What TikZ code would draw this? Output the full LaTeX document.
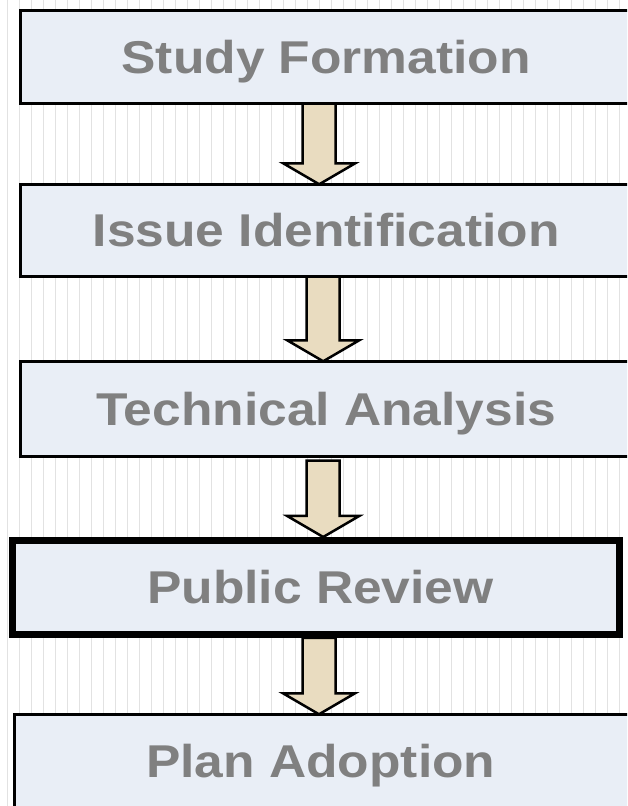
\documentclass[tikz,border=0pt]{standalone}
\usepackage{fontspec}
\setmainfont{Liberation Sans}[FakeStretch=1.12]
\usepackage{xcolor}
\usepackage{tikz}
\usetikzlibrary{calc}

\definecolor{boxfill}{HTML}{E9EEF6}
\definecolor{arrowfill}{HTML}{E9DCC0}
\definecolor{labelgray}{HTML}{808080}
\definecolor{stripe}{HTML}{E2E2E2}

\begin{document}
\begin{tikzpicture}[x=1pt,y=1pt,
            stage/.style={fill=boxfill,text=labelgray,
                font=\fontsize{46}{50}\selectfont\bfseries,anchor=west,
                minimum width=660pt,inner sep=0pt,text height=33pt,text depth=0pt},
            textkern/.style={execute at begin node={\hspace*{#1}}},
            current/.style={draw=black,line width=7pt,anchor=center,minimum width=607pt},
            edge/.style={draw=black,line width=3pt,line join=miter},
            flow/.style={draw=black,line width=2.5pt,fill=arrowfill,line join=miter}]
    \useasboundingbox (0,0) rectangle (627,806);
    \clip (0,0) rectangle (627,806);
    \fill[white] (0,0) rectangle (627,806);
    \foreach \x in {7.5,19.5,...,627}
        \draw[stripe,line width=1.2pt] (\x,0) -- (\x,806);
    \node[stage,textkern=-49pt,minimum height=93pt] (sf) at (20.5,749) {Study Formation};
    \node[stage,textkern=-49pt,minimum height=92pt] (ii) at (20.5,575.5) {Issue Identification};
    \node[stage,textkern=-49pt,minimum height=95pt] (ta) at (20.5,397) {Technical Analysis};
    \node[stage,current,textkern=9pt,minimum height=94pt] (pr) at (316,218.5) {Public Review};
    \node[stage,textkern=-48pt,minimum height=93pt] (pa) at (14.5,45) {Plan Adoption};
    % open boxes, cut by the right margin
    \foreach \n in {sf,ii,ta,pa}
        \draw[edge] (\n.north east) -- (\n.north west) -- (\n.south west) -- (\n.south east);
    \foreach \a/\b/\d/\g in {sf/ii/-31.5/0,ii/ta/-27.5/0,ta/pr/-27.5/4,pr/pa/3/0} {
        \coordinate (top) at ($(\a.south)+(\d,-\g)$);
        \coordinate (tip) at ($(\a.south |- \b.north)+(\d,0)$);
        \draw[flow] ($(top)+(-16.5,0)$) -- ($(tip)+(-16.5,21)$) -- ($(tip)+(-36,21)$) -- (tip)
            -- ($(tip)+(36,21)$) -- ($(tip)+(16.5,21)$) -- ($(top)+(16.5,0)$) -- cycle;
    }
\end{tikzpicture}
\end{document}
